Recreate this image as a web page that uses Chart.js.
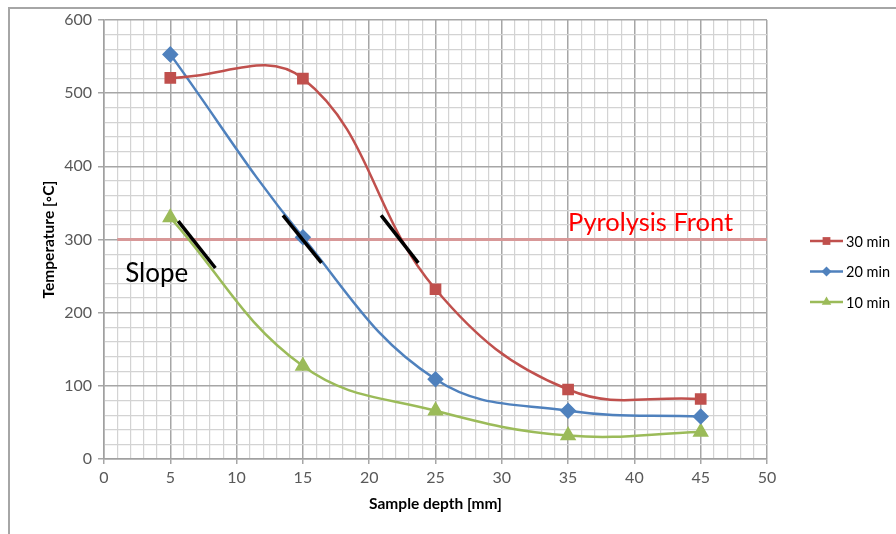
<!DOCTYPE html>
<html>
<head>
<meta charset="utf-8">
<script src="https://cdn.jsdelivr.net/npm/chart.js@4.4.1/dist/chart.umd.min.js"></script>
<style>
  html, body { margin: 0; padding: 0; background: #fff; }
  #wrap { width: 896px; height: 534px; position: relative; }
</style>
</head>
<body>
<div id="wrap"><canvas id="c" width="896" height="534"></canvas></div>
<script>
// Sample depth [mm] at which temperatures were measured
const depths = [5, 15, 25, 35, 45];
// Temperature [°C] per heating time
const series30 = [521, 520, 232, 95, 82];
const series20 = [553, 303, 109, 66, 58];
const series10 = [330, 127, 66, 32, 37];
const seriesNames = ['30 min', '20 min', '10 min'];

// Pyrolysis front temperature and its extent along the depth axis
const frontTemp = 300;
const frontX = [1, 50];

// Tangent ("slope") segments at the pyrolysis front: [x0, y0, x1, y1]
const slopes = [
  [5.6, 325, 8.4, 261],
  [13.5, 333, 16.4, 268],
  [20.9, 333, 23.7, 268]
];

// Axis ranges and labels
const xMin = 0, xMax = 50, xMajor = 5, xMinor = 1;
const yMin = 0, yMax = 600, yMajor = 100, yMinor = 20;
const xTitle = 'Sample depth [mm]';
const yTitle = 'Temperature [\u25E6C]';
const frontLabel = 'Pyrolysis Front';
const slopeLabel = 'Slope';

const RED = '#c0504d', BLUE = '#4f81bd', GREEN = '#9bbb59';
const FONT = 'Lato, "Open Sans", sans-serif';

const pts = vals => depths.map((d, i) => ({ x: d, y: vals[i] }));

const slopeSets = slopes.map(s => ({
  data: [{ x: s[0], y: s[1] }, { x: s[2], y: s[3] }],
  borderColor: '#000', borderWidth: 3.5, pointRadius: 0, tension: 0, order: 0
}));

const datasets = [
  ...slopeSets,
  { label: seriesNames[0], data: pts(series30), borderColor: RED, backgroundColor: RED,
    pointStyle: 'rect', pointRadius: 6.5, borderWidth: 2.5, tension: 0.4, order: 1 },
  { label: seriesNames[1], data: pts(series20), borderColor: BLUE, backgroundColor: BLUE,
    pointStyle: 'rectRot', pointRadius: 6.5, borderWidth: 2.5, tension: 0.4, order: 2 },
  { label: seriesNames[2], data: pts(series10), borderColor: GREEN, backgroundColor: GREEN,
    pointStyle: 'triangle', pointRadius: 7, borderWidth: 2.5, tension: 0.4, order: 3 },
  { data: frontX.map(x => ({ x, y: frontTemp })), borderColor: '#d89898', borderWidth: 3,
    pointRadius: 0, tension: 0, order: 4 }
];

const near = (v, step) => Math.abs(v / step - Math.round(v / step)) < 1e-6;

// Frame, annotations, titles and legend
const decor = {
  id: 'decor',
  beforeDraw(chart) {
    const ctx = chart.ctx;
    ctx.save();
    ctx.fillStyle = '#fff';
    ctx.fillRect(0, 0, chart.width, chart.height);
    ctx.strokeStyle = '#a6a6a6';
    ctx.lineWidth = 2;
    ctx.beginPath();
    ctx.moveTo(9, chart.height + 5);
    ctx.lineTo(9, 8);
    ctx.lineTo(chart.width + 5, 8);
    ctx.stroke();
    ctx.restore();
  },
  afterDraw(chart) {
    const ctx = chart.ctx;
    const xs = chart.scales.x, ys = chart.scales.y;
    const area = chart.chartArea;
    ctx.save();
    // in-plot labels
    ctx.textBaseline = 'middle';
    ctx.textAlign = 'left';
    ctx.fillStyle = '#ff0000';
    ctx.font = '25.5px ' + FONT;
    ctx.fillText(frontLabel, xs.getPixelForValue(35.0), ys.getPixelForValue(323));
    ctx.fillStyle = '#000';
    ctx.font = '26px ' + FONT;
    ctx.fillText(slopeLabel, xs.getPixelForValue(1.6), ys.getPixelForValue(254));

    // axis titles
    ctx.font = 'bold 15.5px ' + FONT;
    ctx.fillStyle = '#000';
    ctx.textAlign = 'center';
    ctx.fillText(xTitle, (area.left + area.right) / 2, 504);
    ctx.translate(49, (area.top + area.bottom) / 2);
    ctx.rotate(-Math.PI / 2);
    ctx.fillText(yTitle, 0, 0);
    ctx.setTransform(1, 0, 0, 1, 0, 0);

    // legend
    const items = [
      { name: seriesNames[0], color: RED, style: 'rect', r: 5.5 },
      { name: seriesNames[1], color: BLUE, style: 'rectRot', r: 5 },
      { name: seriesNames[2], color: GREEN, style: 'triangle', r: 5.5 }
    ];
    ctx.font = '14.5px ' + FONT;
    ctx.textAlign = 'left';
    items.forEach((it, i) => {
      const y = 241 + i * 30.5;
      ctx.strokeStyle = it.color;
      ctx.lineWidth = 2.5;
      ctx.beginPath();
      ctx.moveTo(810, y);
      ctx.lineTo(843, y);
      ctx.stroke();
      ctx.fillStyle = it.color;
      Chart.helpers.drawPoint(ctx, { pointStyle: it.style, radius: it.r, borderWidth: 0 }, 826.5, y);
      ctx.fillStyle = '#000';
      ctx.fillText(it.name, 846, y + 1);
    });
    ctx.restore();
  }
};

new Chart(document.getElementById('c'), {
  type: 'line',
  data: { datasets },
  options: {
    responsive: false,
    animation: false,
    layout: { padding: { left: 0, right: 129, top: 20, bottom: 0 } },
    plugins: { legend: { display: false }, tooltip: { enabled: false } },
    elements: { point: { borderWidth: 0 } },
    scales: {
      x: {
        type: 'linear', min: xMin, max: xMax,
        afterFit(s) { s.height = 534 - 459; },
        border: { display: true, color: '#a0a0a0', width: 1.5 },
        grid: {
          color: c => near(c.tick.value, xMajor) ? '#a6a6a6' : '#d3d3d3',
          lineWidth: c => near(c.tick.value, xMajor) ? 1.5 : 1.2,
          tickColor: c => near(c.tick.value, xMajor) ? '#a6a6a6' : 'rgba(0,0,0,0)',
          tickLength: 5
        },
        ticks: {
          stepSize: xMinor, autoSkip: false, maxRotation: 0, maxTicksLimit: 1000,
          padding: 4, color: '#595959', font: { family: FONT, size: 16 },
          callback: v => near(v, xMajor) ? String(Math.round(v)) : ''
        }
      },
      y: {
        type: 'linear', min: yMin, max: yMax,
        afterFit(s) { s.width = 104; },
        border: { display: true, color: '#a0a0a0', width: 1.5 },
        grid: {
          color: c => near(c.tick.value, yMajor) ? '#a6a6a6' : '#d3d3d3',
          lineWidth: c => near(c.tick.value, yMajor) ? 1.5 : 1.2,
          tickColor: c => near(c.tick.value, yMajor) ? '#a6a6a6' : 'rgba(0,0,0,0)',
          tickLength: 6
        },
        ticks: {
          stepSize: yMinor, autoSkip: false, maxTicksLimit: 1000,
          padding: 6, color: '#595959', font: { family: FONT, size: 16 },
          callback: v => near(v, yMajor) ? String(Math.round(v)) : ''
        }
      }
    }
  },
  plugins: [decor]
});
</script>
</body>
</html>
